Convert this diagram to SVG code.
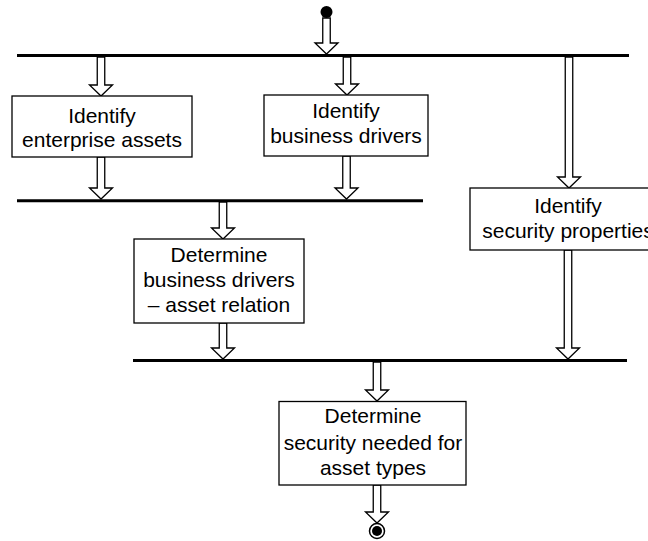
<svg xmlns="http://www.w3.org/2000/svg" width="648" height="541" viewBox="0 0 648 541">
  <style>
    .box { fill: #ffffff; stroke: #000000; stroke-width: 1.3; }
    .label { font-family: "Liberation Sans", Arial, sans-serif; font-size: 21px; fill: #000000; text-anchor: middle; }
    .bar { stroke: #000000; stroke-width: 3; }
    .flow { fill: #ffffff; stroke: #000000; stroke-width: 1.3; stroke-linejoin: miter; }
  </style>
  <rect width="648" height="541" fill="#ffffff"/>

  <!-- synchronisation bars -->
  <g id="bars">
    <line class="bar" x1="17" y1="55.5" x2="629" y2="55.5"/>
    <line class="bar" x1="17" y1="200.7" x2="423" y2="200.7"/>
    <line class="bar" x1="133" y1="360.5" x2="627" y2="360.5"/>
  </g>

  <!-- hollow block arrows -->
  <g id="connectors">
    <path class="flow" d="M322.75,18 V43 H315 L326.5,54 L338,43 H330.25 V18 Z"/>
    <path class="flow" d="M97.25,57 V85 H89.5 L101,96 L112.5,85 H104.75 V57 Z"/>
    <path class="flow" d="M343.25,57 V84 H335.5 L347,95 L358.5,84 H350.75 V57 Z"/>
    <path class="flow" d="M565.25,57 V177 H557.5 L569,188 L580.5,177 H572.75 V57 Z"/>
    <path class="flow" d="M97.25,157 V188 H89.5 L101,199 L112.5,188 H104.75 V157 Z"/>
    <path class="flow" d="M342.75,156 V188 H335 L346.5,199 L358,188 H350.25 V156 Z"/>
    <path class="flow" d="M219.25,202 V228 H211.5 L223,239 L234.5,228 H226.75 V202 Z"/>
    <path class="flow" d="M219.25,323 V348 H211.5 L223,359 L234.5,348 H226.75 V323 Z"/>
    <path class="flow" d="M564.25,250 V348 H556.5 L568,359 L579.5,348 H571.75 V250 Z"/>
    <path class="flow" d="M373.25,362 V390 H365.5 L377,401 L388.5,390 H380.75 V362 Z"/>
    <path class="flow" d="M373.25,485 V512 H365.5 L377,523 L388.5,512 H380.75 V485 Z"/>
  </g>

  <!-- initial node -->
  <g id="start">
    <circle cx="326.5" cy="12" r="6" fill="#000000"/>
  </g>

  <g id="identify-assets">
    <rect class="box" x="12" y="96" width="180" height="61"/>
    <text class="label" x="102" y="122.7">Identify</text>
    <text class="label" x="102" y="146.7">enterprise assets</text>
  </g>

  <g id="identify-drivers">
    <rect class="box" x="264" y="95" width="164" height="61"/>
    <text class="label" x="346" y="118">Identify</text>
    <text class="label" x="346" y="143">business drivers</text>
  </g>

  <g id="identify-properties">
    <rect class="box" x="470" y="188" width="200" height="62"/>
    <text class="label" x="568" y="213.3">Identify</text>
    <text class="label" x="568" y="238.3">security properties</text>
  </g>

  <g id="drivers-asset-relation">
    <rect class="box" x="134" y="239" width="170" height="84"/>
    <text class="label" x="219" y="261.7">Determine</text>
    <text class="label" x="219" y="286.7">business drivers</text>
    <text class="label" x="219" y="311.7">– asset relation</text>
  </g>

  <g id="security-needed">
    <rect class="box" x="279" y="401.5" width="187" height="83.5"/>
    <text class="label" x="373" y="423.3">Determine</text>
    <text class="label" x="373" y="449.5">security needed for</text>
    <text class="label" x="373" y="475">asset types</text>
  </g>

  <!-- final node -->
  <g id="end">
    <circle cx="377" cy="531" r="7.5" fill="#ffffff" stroke="#000000" stroke-width="1.5"/>
    <circle cx="377" cy="531" r="5" fill="#000000"/>
  </g>
</svg>
